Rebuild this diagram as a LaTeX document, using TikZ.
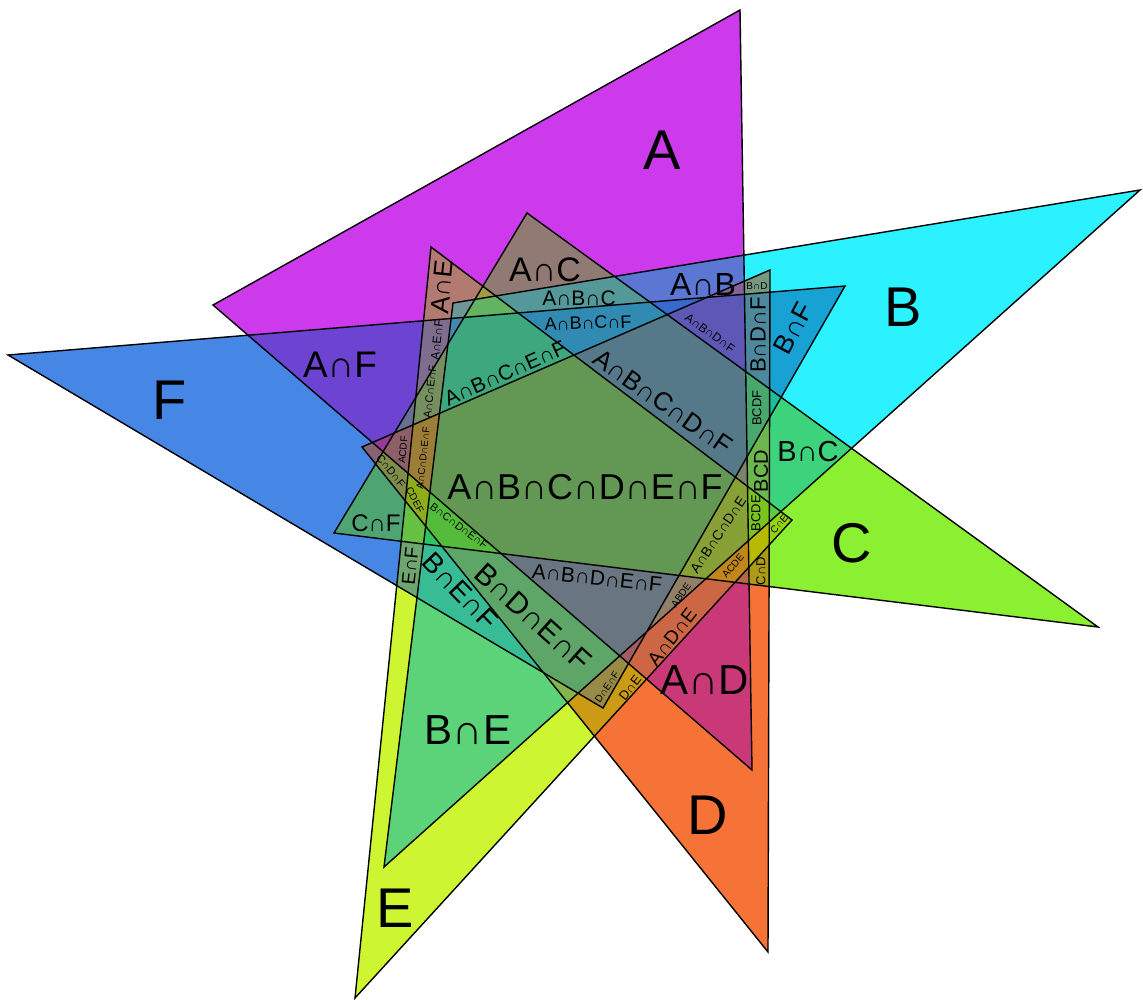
\documentclass[tikz,border=0pt]{standalone}
\usepackage{fontspec}
\setmainfont{Liberation Sans}
\def\triA{(740,10)--(213,305)--(752,770)--cycle}
\def\triB{(1140,190)--(453,303)--(384,867)--cycle}
\def\triC{(527,213)--(1098,627)--(334,533)--cycle}
\def\triD{(770,270)--(768,952)--(362,447)--cycle}
\def\triE{(431,247)--(355,998)--(792,520)--cycle}
\def\triF{(8,355)--(845,286)--(603,708)--cycle}
\newcommand\addc[3]{%
  \pgfmathsetmacro\sumR{\sumR+#1}%
  \pgfmathsetmacro\sumG{\sumG+#2}%
  \pgfmathsetmacro\sumB{\sumB+#3}%
  \pgfmathsetmacro\cnt{\cnt+1}}
\def\aA{\clip\triA;\addc{204}{58}{236}}
\def\aB{\clip\triB;\addc{44}{242}{255}}
\def\aC{\clip\triC;\addc{140}{240}{50}}
\def\aD{\clip\triD;\addc{246}{115}{55}}
\def\aE{\clip\triE;\addc{205}{245}{50}}
\def\aF{\clip\triF;\addc{70}{135}{230}}
\newcommand\Reg[1]{\begin{scope}\def\sumR{0}\def\sumG{0}\def\sumB{0}\def\cnt{0}#1%
\pgfmathsetmacro\avR{\sumR/\cnt}\pgfmathsetmacro\avG{\sumG/\cnt}\pgfmathsetmacro\avB{\sumB/\cnt}%
\pgfmathsetmacro\avM{(\avR+\avG+\avB)/3}%
\pgfmathsetmacro\satS{1+0.2*(\cnt-1)+0.0625*(\cnt-1)*(\cnt-1)}%
\pgfmathsetmacro\drkD{\cnt<1.5 ? 1 : 0.89-0.03*\cnt}%
\pgfmathtruncatemacro\iR{\drkD*max(0,min(255,\avM+\satS*(\avR-\avM)))}%
\pgfmathtruncatemacro\iG{\drkD*max(0,min(255,\avM+\satS*(\avG-\avM)))}%
\pgfmathtruncatemacro\iB{\drkD*max(0,min(255,\avM+\satS*(\avB-\avM)))}%
\definecolor{regc}{RGB}{\iR,\iG,\iB}%
\fill[regc] (0,0) rectangle (1143,1000);\end{scope}}
\begin{document}
\begin{tikzpicture}[x=1pt,y=-1pt,
  lab/.style={inner sep=0pt, outer sep=0pt, text=black},
  fs/.style={font=\fontsize{#1}{#1}\selectfont},
  edge/.style={draw=black, line width=1.4pt}]
\useasboundingbox (0,0) rectangle (1143,1000);
\fill[white] (0,0) rectangle (1143,1000);
% single sets
\Reg{\aA}\Reg{\aB}\Reg{\aC}\Reg{\aD}\Reg{\aE}\Reg{\aF}
% pairs
\Reg{\aA\aB}\Reg{\aA\aC}\Reg{\aA\aD}\Reg{\aA\aE}\Reg{\aA\aF}
\Reg{\aB\aC}\Reg{\aB\aD}\Reg{\aB\aE}\Reg{\aB\aF}
\Reg{\aC\aD}\Reg{\aC\aE}\Reg{\aC\aF}
\Reg{\aD\aE}\Reg{\aD\aF}\Reg{\aE\aF}
% triples
\Reg{\aA\aB\aC}\Reg{\aA\aB\aD}\Reg{\aA\aB\aE}\Reg{\aA\aB\aF}
\Reg{\aA\aC\aD}\Reg{\aA\aC\aE}\Reg{\aA\aC\aF}
\Reg{\aA\aD\aE}\Reg{\aA\aD\aF}\Reg{\aA\aE\aF}
\Reg{\aB\aC\aD}\Reg{\aB\aC\aE}\Reg{\aB\aC\aF}
\Reg{\aB\aD\aE}\Reg{\aB\aD\aF}\Reg{\aB\aE\aF}
\Reg{\aC\aD\aE}\Reg{\aC\aD\aF}\Reg{\aC\aE\aF}\Reg{\aD\aE\aF}
% quadruples
\Reg{\aA\aB\aC\aD}\Reg{\aA\aB\aC\aE}\Reg{\aA\aB\aC\aF}
\Reg{\aA\aB\aD\aE}\Reg{\aA\aB\aD\aF}\Reg{\aA\aB\aE\aF}
\Reg{\aA\aC\aD\aE}\Reg{\aA\aC\aD\aF}\Reg{\aA\aC\aE\aF}\Reg{\aA\aD\aE\aF}
\Reg{\aB\aC\aD\aE}\Reg{\aB\aC\aD\aF}\Reg{\aB\aC\aE\aF}\Reg{\aB\aD\aE\aF}
\Reg{\aC\aD\aE\aF}
% quintuples
\Reg{\aA\aB\aC\aD\aE}\Reg{\aA\aB\aC\aD\aF}\Reg{\aA\aB\aC\aE\aF}
\Reg{\aA\aB\aD\aE\aF}\Reg{\aA\aC\aD\aE\aF}\Reg{\aB\aC\aD\aE\aF}
% all six
\Reg{\aA\aB\aC\aD\aE\aF}
% outlines
\draw[edge] \triA; \draw[edge] \triB; \draw[edge] \triC;
\draw[edge] \triD; \draw[edge] \triE; \draw[edge] \triF;
% labels
\node[lab,fs=56] (lA) at (662,150) {A};
\node[lab,fs=56] (lB) at (903,307) {B};
\node[lab,fs=56] (lC) at (852,543) {C};
\node[lab,fs=56] (lD) at (708,815) {D};
\node[lab,fs=56] (lE) at (395,908) {E};
\node[lab,fs=56] (lF) at (170,400) {F};
\node[lab,fs=34] (lAC) at (545,270) {A∩C};
\node[lab,fs=32] (lAB) at (703,285) {A∩B};
\node[lab,fs=37] (lAF) at (340,365) {A∩F};
\node[lab,fs=29] (lBC) at (808,452) {B∩C};
\node[lab,fs=24] (lCF) at (376,523) {C∩F};
\node[lab,fs=42] (lAD) at (705,680) {A∩D};
\node[lab,fs=42] (lBE) at (468,730) {B∩E};
\node[lab,fs=26,rotate=84] (lAE) at (442,287) {A∩E};
\node[lab,fs=27,rotate=62] (lBF) at (793,328) {B∩F};
\node[lab,fs=19,rotate=84] (lEF) at (410,566) {E∩F};
\node[lab,fs=10] (lBD) at (757,286) {B∩D};
\node[lab,fs=13,rotate=90] (lCD) at (761,571) {C∩D};
\node[lab,fs=10,rotate=48] (lCE) at (779,524) {C∩E};
\node[lab,fs=13,rotate=52] (lDE) at (630,688) {D∩E};
\node[lab,fs=10,rotate=55] (lDEF) at (607,687) {D∩E∩F};
\node[lab,fs=21] (lABC) at (579,298) {A∩B∩C};
\node[lab,fs=18,rotate=2] (lABCF) at (588,323) {A∩B∩C∩F};
\node[lab,fs=12,rotate=-36] (lABDF) at (710,333) {A∩B∩D∩F};
\node[lab,fs=22,rotate=90] (lBDF) at (758,335) {B∩D∩F};
\node[lab,fs=13,rotate=90] (lBCDF) at (757,408) {BCDF};
\node[lab,fs=20,rotate=90] (lBCD) at (761,471) {BCD};
\node[lab,fs=13,rotate=90] (lBCDE) at (756,513) {BCDE};
\node[lab,fs=14,rotate=56] (lABCDE) at (718,535) {A∩B∩C∩D∩E};
\node[lab,fs=10,rotate=50] (lACDE) at (733,566) {ACDE};
\node[lab,fs=10,rotate=55] (lABDE) at (681,595) {ABDE};
\node[lab,fs=19,rotate=52] (lADE) at (672,637) {A∩D∩E};
\node[lab,fs=26,rotate=-35] (lABCDF) at (663,402) {A∩B∩C∩D∩F};
\node[lab,fs=21,rotate=24] (lABCEF) at (505,373) {A∩B∩C∩E∩F};
\node[lab,fs=12,rotate=84] (lAEF) at (437,340) {A∩E∩F};
\node[lab,fs=11,rotate=84] (lACEF) at (430,392) {A∩C∩E∩F};
\node[lab,fs=10,rotate=85] (lACDF) at (403,450) {ACDF};
\node[lab,fs=10,rotate=84] (lACDEF) at (423,458) {A∩C∩D∩E∩F};
\node[lab,fs=11,rotate=-51] (lCDF) at (391,471) {C∩D∩F};
\node[lab,fs=10,rotate=-62] (lCDEF) at (415,500) {CDEF};
\node[lab,fs=11,rotate=-37] (lBCDEF) at (459,526) {B∩C∩D∩E∩F};
\node[lab,fs=21,rotate=-6] (lABDEF) at (597,578) {A∩B∩D∩E∩F};
\node[lab,fs=28,rotate=-46] (lBEF) at (460,591) {B∩E∩F};
\node[lab,fs=30,rotate=-42] (lBDEF) at (533,617) {B∩D∩E∩F};
\node[lab,fs=36] (lALL) at (585,487) {A∩B∩C∩D∩E∩F};
\end{tikzpicture}
\end{document}
